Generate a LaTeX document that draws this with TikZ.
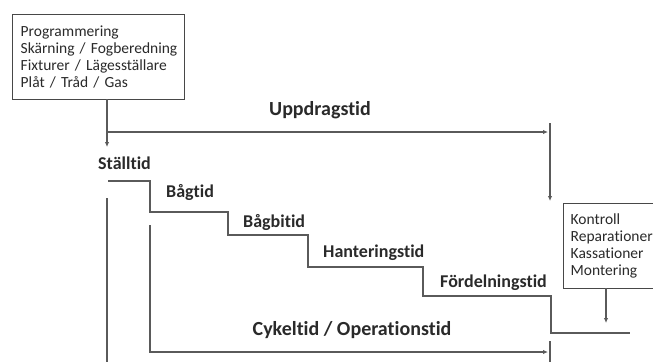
\documentclass[tikz,border=0pt]{standalone}
\usepackage{fontspec}
\setmainfont{Carlito}[Ligatures=NoCommon]
\usetikzlibrary{arrows.meta}
\definecolor{ln}{HTML}{5A5A5A}
\definecolor{tx}{HTML}{2A2A2A}
\tikzset{
  conn/.style={draw=ln, line width=1.3pt},
  arr/.style={conn, -{Latex[length=5pt,width=4.5pt]}},
  infobox/.style={draw=ln!80!black, line width=1.4pt, align=left, text=tx, font=\fontsize{15.5}{17}\selectfont, inner sep=0pt, anchor=north west},
  lbl/.style={text=tx, font=\bfseries\fontsize{18}{20}\selectfont, inner sep=0pt},
  biglbl/.style={text=tx, font=\bfseries\fontsize{20}{22}\selectfont, inner sep=0pt},
}
\begin{document}
\begin{tikzpicture}[x=1pt,y=-1pt]
\useasboundingbox (0,0) rectangle (653,362);
\fill[white] (0,0) rectangle (653,362);
% top box
\node[infobox, minimum width=172pt, minimum height=85pt, text width=172pt] (prep) at (12,14) {\hspace*{8pt}\parbox{164pt}{Programmering\\Skärning / Fogberedning\\Fixturer / Lägesställare\\Plåt / Tråd / Gas}};
% right box
\node[infobox, minimum width=110pt, minimum height=85pt, text width=110pt] (post) at (563,203) {\hspace*{7pt}\parbox{103pt}{Kontroll\\Reparationer\\Kassationer\\Montering}};
% labels
\node[biglbl] (upp) at (320,110) {Uppdragstid};
\node[lbl, anchor=west] (stall) at (98,163) {Ställtid};
\node[lbl, anchor=west] (bag) at (166,192) {Bågtid};
\node[lbl, anchor=west] (bagbi) at (243,222) {Bågbitid};
\node[lbl, anchor=west] (hant) at (323,253) {Hanteringstid};
\node[lbl, anchor=west] (ford) at (440,283) {Fördelningstid};
\node[biglbl] (cyk) at (352,330) {Cykeltid / Operationstid};
% coordinates
\coordinate (c1) at (107,99);
\coordinate (c2) at (107,132);
\coordinate (c3) at (107,147);
\coordinate (c4) at (548,132);
\coordinate (d1) at (550,123);
\coordinate (d2) at (550,201);
\coordinate (s0) at (108,181);
\coordinate (v1a) at (107,198);
\coordinate (v1b) at (107,362);
\coordinate (v2a) at (150,225);
\coordinate (v2b) at (150,352);
\coordinate (v2c) at (548,352);
\coordinate (t1) at (550,341);
\coordinate (t2) at (550,362);
\coordinate (p1) at (606,288);
\coordinate (p2) at (606,323);
% connectors
\draw[arr] (c1) -- (c3);
\draw[arr] (c2) -- (c4);
\draw[arr] (d1) -- (d2);
\draw[conn] (s0) -- (150,181) -- (150,212) -- (228,212) -- (228,235) -- (308,235) -- (308,267) -- (423,267) -- (423,296) -- (551,296) -- (551,333) -- (630,333);
\draw[conn] (v1a) -- (v1b);
\draw[arr] (v2a) -- (v2b) -- (v2c);
\draw[conn] (t1) -- (t2);
\draw[arr] (p1) -- (p2);
\end{tikzpicture}
\end{document}
